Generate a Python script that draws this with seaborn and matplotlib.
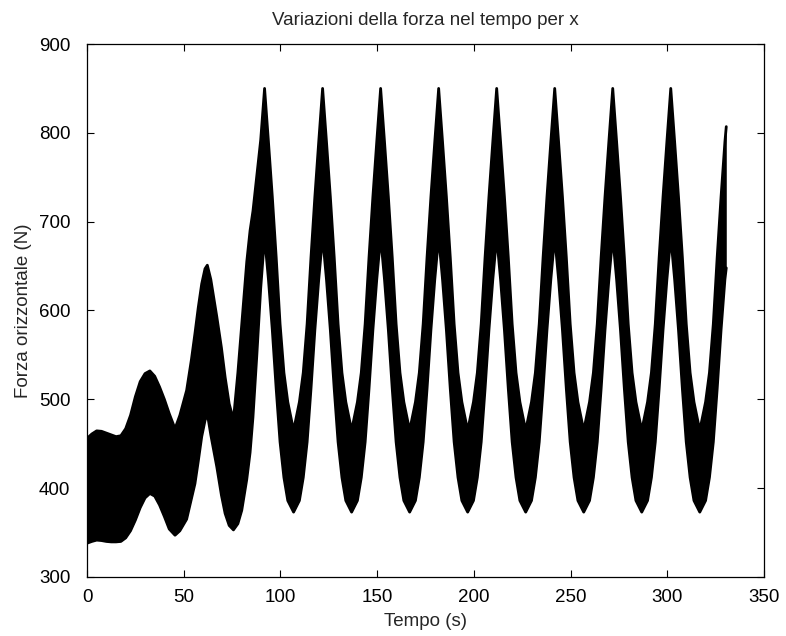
import matplotlib
matplotlib.use("Agg")
import matplotlib.pyplot as plt
import seaborn as sns
import pandas as pd

# ---- data (envelopes of the dense oscillating force signal) ----
time_s = [
    0, 2.5, 5, 7.5, 10, 12.5, 15, 17.5, 20, 22.5, 25, 27.5, 30, 32.5, 35, 37.5, 40, 42.5,
    45.5, 48, 51.5, 54, 55.8, 57.5, 59.3, 61, 62.2, 64, 67.1, 69.5, 71.4, 73.5, 75.7, 78, 80,
    82.6, 84.3, 85.8, 87.8, 89.8,
    91.8, 93.8, 95.8, 97.8, 99.8, 101.8, 103.8, 106.8, 109.8, 111.8, 113.8, 115.8, 117.8, 119.8,
    121.8, 123.8, 125.8, 127.8, 129.8, 131.8, 133.8, 136.8, 139.8, 141.8, 143.8, 145.8, 147.8, 149.8,
    151.8, 153.8, 155.8, 157.8, 159.8, 161.8, 163.8, 166.8, 169.8, 171.8, 173.8, 175.8, 177.8, 179.8,
    181.8, 183.8, 185.8, 187.8, 189.8, 191.8, 193.8, 196.8, 199.8, 201.8, 203.8, 205.8, 207.8, 209.8,
    211.8, 213.8, 215.8, 217.8, 219.8, 221.8, 223.8, 226.8, 229.8, 231.8, 233.8, 235.8, 237.8, 239.8,
    241.8, 243.8, 245.8, 247.8, 249.8, 251.8, 253.8, 256.8, 259.8, 261.8, 263.8, 265.8, 267.8, 269.8,
    271.8, 273.8, 275.8, 277.8, 279.8, 281.8, 283.8, 286.8, 289.8, 291.8, 293.8, 295.8, 297.8, 299.8,
    301.8, 303.8, 305.8, 307.8, 309.8, 311.8, 313.8, 316.8, 319.8, 321.8, 323.8, 325.8, 327.8, 329.8,
    330.5,
]

force_upper = [
    456, 461, 464.5, 464, 462, 460, 458, 459, 467, 482, 503, 520, 529, 532, 526, 514, 500, 484,
    467, 482, 510, 545, 574, 603, 630, 647, 651, 635, 593, 558, 525, 495, 477, 530, 585,
    655, 690, 712, 752, 792,
    850, 790, 728, 660, 585, 530, 497, 465, 497, 530, 585, 660, 728, 790,
    850, 790, 728, 660, 585, 530, 497, 465, 497, 530, 585, 660, 728, 790,
    850, 790, 728, 660, 585, 530, 497, 465, 497, 530, 585, 660, 728, 790,
    850, 790, 728, 660, 585, 530, 497, 465, 497, 530, 585, 660, 728, 790,
    850, 790, 728, 660, 585, 530, 497, 465, 497, 530, 585, 660, 728, 790,
    850, 790, 728, 660, 585, 530, 497, 465, 497, 530, 585, 660, 728, 790,
    850, 790, 728, 660, 585, 530, 497, 465, 497, 530, 585, 660, 728, 790,
    850, 790, 728, 660, 585, 530, 497, 465, 497, 530, 585, 660, 728, 790,
    807,
]

force_lower = [
    338, 340, 341.5, 341, 340, 339.5, 339.5, 340, 344, 352, 364, 378, 389, 394, 391, 381, 368, 354,
    347, 352, 365, 388, 405, 430, 458, 476, 484, 460, 424, 392, 371.5, 358, 353, 360, 375,
    410, 440, 480, 550, 625,
    683, 635, 578, 512, 452, 412, 386, 373, 386, 412, 452, 512, 578, 635,
    683, 635, 578, 512, 452, 412, 386, 373, 386, 412, 452, 512, 578, 635,
    683, 635, 578, 512, 452, 412, 386, 373, 386, 412, 452, 512, 578, 635,
    683, 635, 578, 512, 452, 412, 386, 373, 386, 412, 452, 512, 578, 635,
    683, 635, 578, 512, 452, 412, 386, 373, 386, 412, 452, 512, 578, 635,
    683, 635, 578, 512, 452, 412, 386, 373, 386, 412, 452, 512, 578, 635,
    683, 635, 578, 512, 452, 412, 386, 373, 386, 412, 452, 512, 578, 635,
    683, 635, 578, 512, 452, 412, 386, 373, 386, 412, 452, 512, 578, 635,
    648,
]

x_ticks = [0, 50, 100, 150, 200, 250, 300, 350]
y_ticks = [300, 400, 500, 600, 700, 800, 900]

title_text = "Variazioni della forza nel tempo per x"
x_label = "Tempo (s)"
y_label = "Forza orizzontale (N)"

df = pd.DataFrame({"t": time_s, "upper": force_upper, "lower": force_lower})

# ---- style ----
sns.set_style("ticks")
plt.rcParams["font.family"] = ["Liberation Sans", "DejaVu Sans"]
plt.rcParams["font.size"] = 13

fig = plt.figure(figsize=(7.86, 6.36), dpi=100)
ax = fig.add_axes([0.1107, 0.0928, 0.8613, 0.838])

ax.fill_between(df["t"], df["lower"], df["upper"], color="black", linewidth=0)
sns.lineplot(data=df, x="t", y="upper", ax=ax, color="black", linewidth=2.0, sort=False)
sns.lineplot(data=df, x="t", y="lower", ax=ax, color="black", linewidth=2.0, sort=False)

ax.set_xlim(0, 350)
ax.set_ylim(300, 900)
ax.set_xticks(x_ticks)
ax.set_yticks(y_ticks)
ax.set_xticklabels([str(v) for v in x_ticks])
ax.set_yticklabels([str(v) for v in y_ticks])

ax.tick_params(direction="in", length=5, width=0.8, top=True, right=True,
               labelsize=13.5, colors="black")
ax.tick_params(axis="x", pad=9)
ax.tick_params(axis="y", pad=12)
for s in ax.spines.values():
    s.set_visible(True)
    s.set_linewidth(0.9)
    s.set_color("black")

ax.set_title(title_text, fontsize=13.5, pad=14)
ax.set_xlabel(x_label, fontsize=13.5, labelpad=5)
ax.set_ylabel(y_label, fontsize=13.5, labelpad=5)

fig.savefig("out.png", dpi=100, facecolor="white")
